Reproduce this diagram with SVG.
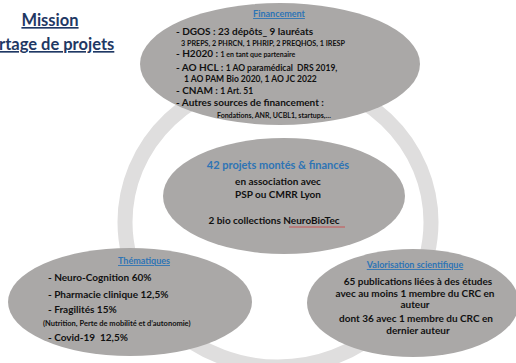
<svg xmlns="http://www.w3.org/2000/svg" width="516" height="363" viewBox="0 0 516 363">
<style>
text{font-family:Lato,"Liberation Sans","DejaVu Sans",sans-serif;font-weight:bold;fill:#111;}
.blob{fill:#aaa8a7;}
.ring{fill:none;stroke:#dfdede;stroke-width:15;}
.hd{fill:#2e74b5;font-size:9px;text-decoration:underline;}
.b{font-size:10px;}
.s{font-size:7px;}
.m{font-size:8.5px;}
.c{text-anchor:middle;}
.title{fill:#1f3864;font-size:16.5px;text-decoration:underline;}
</style>
<rect width="516" height="363" fill="#ffffff"/>
<g id="title">
<text class="title c" x="50" y="26">Mission</text>
<text class="title" x="-1" y="50">rtage de projets</text>
</g>
<g id="connectors">
<ellipse class="ring" cx="278" cy="222" rx="153" ry="145"/>
</g>
<g id="financement">
<ellipse class="blob" cx="280" cy="64" rx="140" ry="61"/>
<text class="hd c" x="279" y="17">Financement</text>
<text class="b" x="176" y="35">- DGOS : 23 dépôts_ 9 lauréats</text>
<text class="s" x="181" y="46" textLength="164" lengthAdjust="spacingAndGlyphs">3 PREPS, 2 PHRCN, 1 PHRIP, 2 PREQHOS, 1 IRESP</text>
<text class="b" x="176" y="57">- H2020 : <tspan class="s">1 en tant que partenaire</tspan></text>
<text class="b" x="176" y="71">- AO HCL : <tspan class="m">1 AO paramédical&#160; DRS 2019,</tspan></text>
<text class="m" x="184" y="82">1 AO PAM Bio 2020, 1 AO JC 2022</text>
<text class="b" x="176" y="94">- CNAM : <tspan class="m">1 Art. 51</tspan></text>
<text class="b" x="176" y="106">- Autres sources de financement :</text>
<text class="s" x="217" y="118">Fondations, ANR, UCBL1, startups,…</text>
</g>
<g id="projets">
<ellipse class="blob" cx="284" cy="196" rx="121" ry="58"/>
<text class="c" x="278" y="169" style="font-size:11px;fill:#2e74b5">42 projets montés &amp; financés</text>
<text class="b c" x="278" y="185">en association avec</text>
<text class="b c" x="278" y="198">PSP ou CMRR Lyon</text>
<text class="b c" x="274" y="224">2 bio collections NeuroBioTec</text>
<path d="M289 227 H345" stroke="#d04040" stroke-width="0.8" fill="none"/>
</g>
<g id="thematiques">
<ellipse class="blob" cx="130" cy="302" rx="122" ry="54"/>
<text class="hd c" x="144" y="264">Thématiques</text>
<text class="b" x="48" y="281">- Neuro-Cognition 60%</text>
<text class="b" x="48" y="298">- Pharmacie clinique 12,5%</text>
<text class="b" x="48" y="313">- Fragilités 15%</text>
<text x="43" y="326" style="font-size:7.5px">(Nutrition, Perte de mobilité et d’autonomie)</text>
<text class="b" x="48" y="341">- Covid-19&#160; 12,5%</text>
</g>
<g id="valorisation">
<ellipse class="blob" cx="413" cy="303" rx="106" ry="54"/>
<text class="hd c" x="415" y="268">Valorisation scientifique</text>
<text class="b c" x="418" y="284.5">65 publications liées à des études</text>
<text class="b c" x="415" y="296.5">avec au moins 1 membre du CRC en</text>
<text class="b c" x="415" y="307.5">auteur</text>
<text class="b c" x="416" y="322">dont 36 avec 1 membre du CRC en</text>
<text class="b c" x="418" y="334">dernier auteur</text>
</g>
</svg>
